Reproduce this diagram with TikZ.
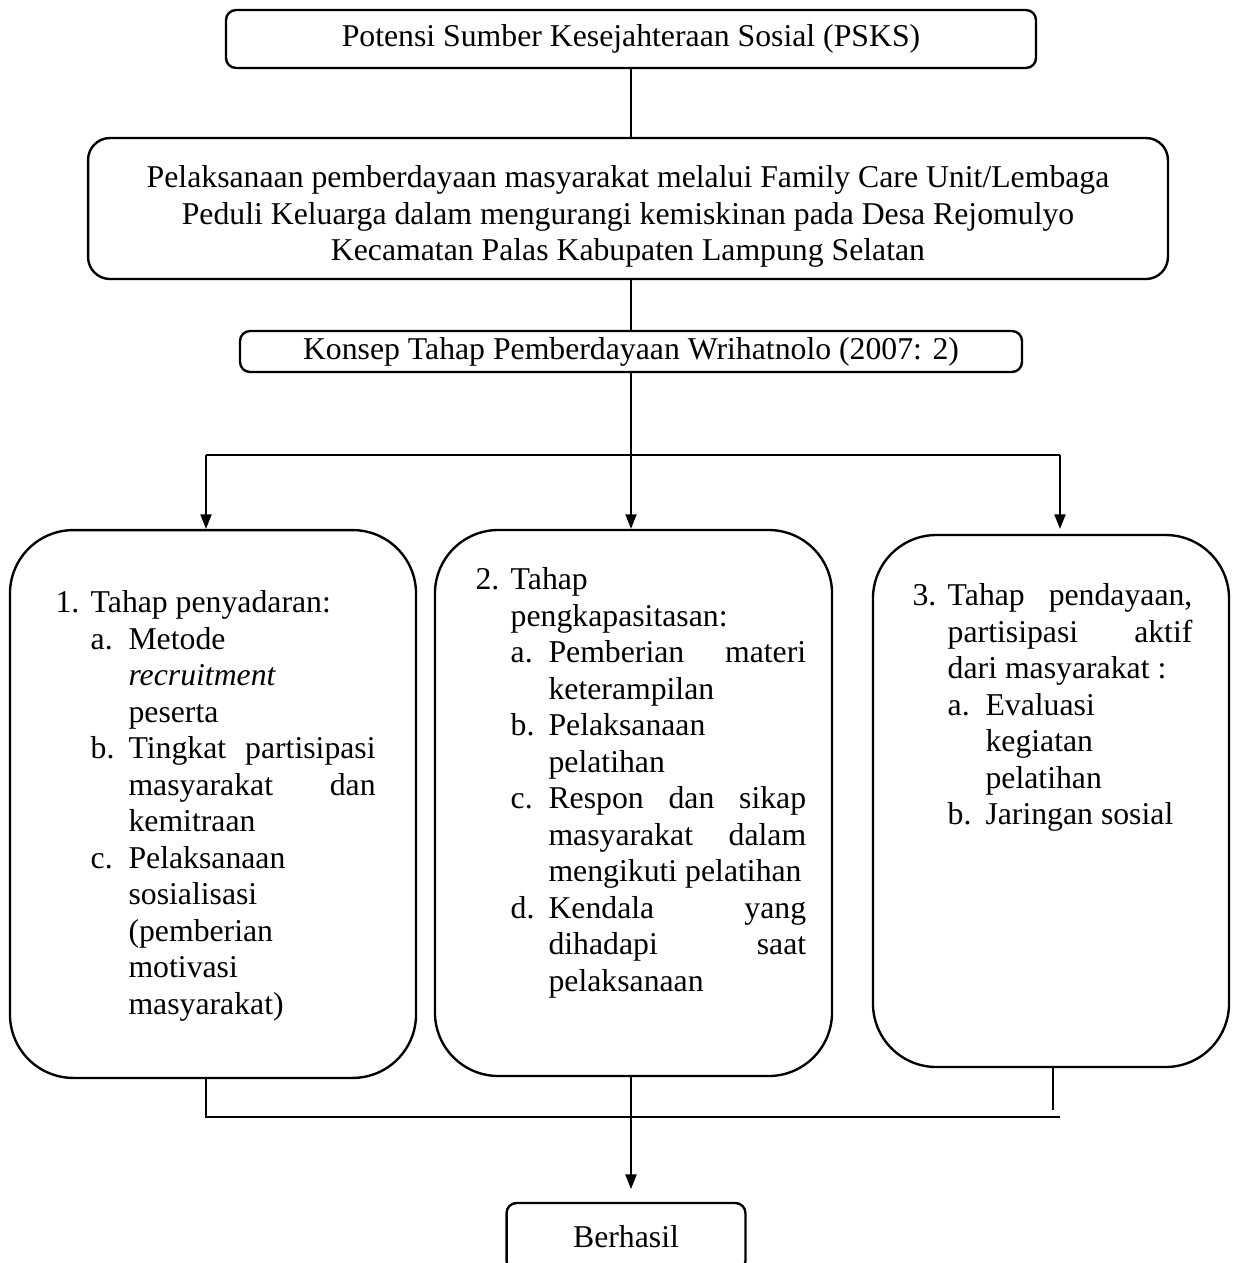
\documentclass[tikz,border=0pt]{standalone}
\usepackage{fontspec}
\setmainfont{Liberation Serif}
\usetikzlibrary{arrows.meta}

\tikzset{
  kotak/.style={draw, line width=0.9pt, rounded corners=3.8pt, inner sep=0pt, font=\fontsize{12}{13.8}\selectfont},
  kotakbesar/.style={draw, line width=0.9pt, rounded corners=24pt, inner sep=0pt},
  isi/.style={anchor=north west, inner sep=0pt, align=justify, font=\fontsize{12}{13.8}\selectfont},
  garis/.style={line width=0.6pt},
  panah/.style={line width=0.6pt, -{Triangle[length=5.5pt,width=4.2pt]}},
}

\newcommand{\tahap}[2]{\noindent\hangindent=13.3pt\hangafter=1\makebox[13.3pt][l]{#1}#2\par}
\newcommand{\subtahap}[2]{\noindent\hangindent=27.6pt\hangafter=1\hspace*{13.3pt}\makebox[14.3pt][l]{#1}#2\par}

\begin{document}
\begin{tikzpicture}[x=0.378pt, y=-0.378pt]
\useasboundingbox (0,0) rectangle (1236,1263);
\clip (0,0) rectangle (1236,1263);

% PSKS
\node[kotak, minimum width=306.2pt, minimum height=21.9pt] (psks) at (631,39) {Potensi Sumber Kesejahteraan Sosial (PSKS)};

% pelaksanaan pemberdayaan
\node[kotak, rounded corners=8.3pt, align=center, minimum width=408.2pt, minimum height=53.3pt] (pelaksanaan) at (628,208.5)
  {\rule{0pt}{14.5pt}Pelaksanaan pemberdayaan masyarakat melalui Family Care Unit/Lembaga\\
   Peduli Keluarga dalam mengurangi kemiskinan pada Desa Rejomulyo\\
   Kecamatan Palas Kabupaten Lampung Selatan};

% konsep
\node[kotak, minimum width=295.6pt, minimum height=15.5pt] (konsep) at (631,351.5) {Konsep Tahap Pemberdayaan Wrihatnolo (2007: 2)};

% tiga tahap
\node[kotakbesar, minimum width=153.5pt, minimum height=207.1pt] (tahap1) at (213,804) {};
\node[kotakbesar, minimum width=150.1pt, minimum height=206.4pt] (tahap2) at (633.5,803) {};
\node[kotakbesar, minimum width=134.6pt, minimum height=201.1pt] (tahap3) at (1051,801) {};

\node[isi, text width=121pt] (isi1) at (55,590) {%
  \tahap{1.}{Tahap penyadaran:}
  \subtahap{a.}{Metode\newline \textit{recruitment}\newline peserta}
  \subtahap{b.}{Tingkat partisipasi\linebreak masyarakat dan\linebreak kemitraan}
  \subtahap{c.}{Pelaksanaan\newline sosialisasi\newline (pemberian\newline motivasi\newline masyarakat)}};

\node[isi, text width=125pt] (isi2) at (475,567) {%
  \tahap{2.}{Tahap\newline pengkapasitasan:}
  \subtahap{a.}{Pemberian materi\linebreak keterampilan}
  \subtahap{b.}{Pelaksanaan\newline pelatihan}
  \subtahap{c.}{Respon dan sikap\linebreak masyarakat dalam\linebreak mengikuti pelatihan}
  \subtahap{d.}{Kendala yang\linebreak dihadapi saat\linebreak pelaksanaan}};

\node[isi, text width=105.8pt] (isi3) at (912,583) {%
  \tahap{3.}{Tahap pendayaan,\linebreak partisipasi aktif\linebreak dari masyarakat :}
  \subtahap{a.}{Evaluasi\newline kegiatan\newline pelatihan}
  \subtahap{b.}{Jaringan sosial}};

% Berhasil
\node[kotak, minimum width=90.3pt, minimum height=25.7pt] (berhasil) at (626,1237) {Berhasil};

% garis atas
\draw[garis] (psks.south) -- (psks.south |- pelaksanaan.north);
\draw[garis] (pelaksanaan.south -| konsep) -- (konsep.north);

% cabang
\coordinate (cabang) at (631,455);
\coordinate (cabangkiri) at (206,455);
\coordinate (cabangkanan) at (1060,455);
\draw[garis] (konsep.south) -- (cabang);
\draw[garis] (cabangkiri) -- (cabangkanan);
\draw[panah] (cabangkiri) -- (cabangkiri |- tahap1.north);
\draw[panah] (cabang) -- (cabang |- tahap2.north);
\draw[panah] (cabangkanan) -- (cabangkanan |- tahap1.north);

% gabung
\coordinate (gabungkiri) at (206,1117);
\coordinate (gabungkanan) at (1060,1117);
\coordinate (ujungkanan) at (1053,1110);
\coordinate (ujungpanah) at (631,1189);
\draw[garis] (tahap1.south -| gabungkiri) -- (gabungkiri) -- (gabungkanan);
\draw[garis] (tahap3.south -| ujungkanan) -- (ujungkanan);
\draw[panah] (tahap2.south -| ujungpanah) -- (ujungpanah);

\end{tikzpicture}
\end{document}
